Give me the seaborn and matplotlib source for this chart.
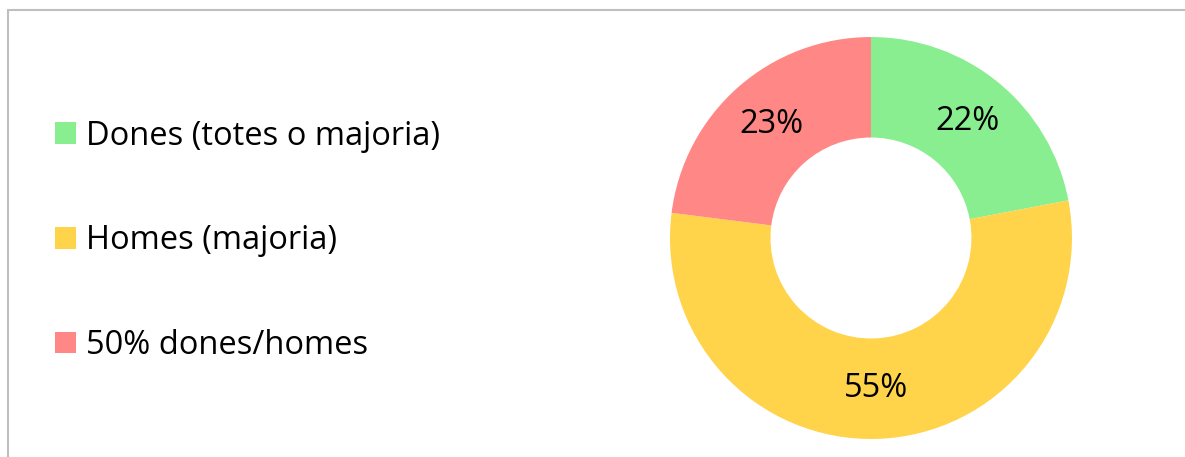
import matplotlib
matplotlib.use("Agg")
import matplotlib.pyplot as plt
import seaborn as sns
from matplotlib.lines import Line2D

# Data
labels = ["Dones (totes o majoria)", "Homes (majoria)", "50% dones/homes"]
values = [22, 55, 23]
colors = ["#88EE90", "#FFD34A", "#FF8785"]

sns.set_theme(style="white")
plt.rcParams["font.family"] = ["Open Sans", "DejaVu Sans"]

fig = plt.figure(figsize=(11.85, 4.57), dpi=100)
ax = fig.add_axes([0.5654, 0.0394, 0.3392, 0.8796])

wedges, texts, autotexts = ax.pie(
    values,
    colors=colors,
    startangle=90,
    counterclock=False,
    radius=1.0,
    autopct="%1.0f%%",
    pctdistance=0.75,
    wedgeprops={"width": 0.5, "linewidth": 0},
    textprops={"fontsize": 23.5, "color": "black"},
)
ax.set_xlim(-1, 1)
ax.set_ylim(-1, 1)
ax.set_aspect("equal")
ax.axis("off")

leg = fig.legend(
    wedges, labels,
    loc="center left",
    bbox_to_anchor=(55 / 1185, 0.473),
    frameon=False,
    fontsize=23.5,
    handlelength=0.64,
    handleheight=0.64,
    handletextpad=0.3,
    labelspacing=2.2,
    borderpad=0,
    borderaxespad=0,
)
for t in leg.get_texts():
    t.set_color("black")

# outer frame (only top and left edge visible)
fig.add_artist(Line2D([7.5 / 1185, 1.0], [1 - 9.5 / 457] * 2,
                      transform=fig.transFigure, color="#BFBFBF", lw=1.5))
fig.add_artist(Line2D([7.5 / 1185] * 2, [0.0, 1 - 9.5 / 457],
                      transform=fig.transFigure, color="#BFBFBF", lw=1.5))

plt.savefig("out.png", dpi=100)
